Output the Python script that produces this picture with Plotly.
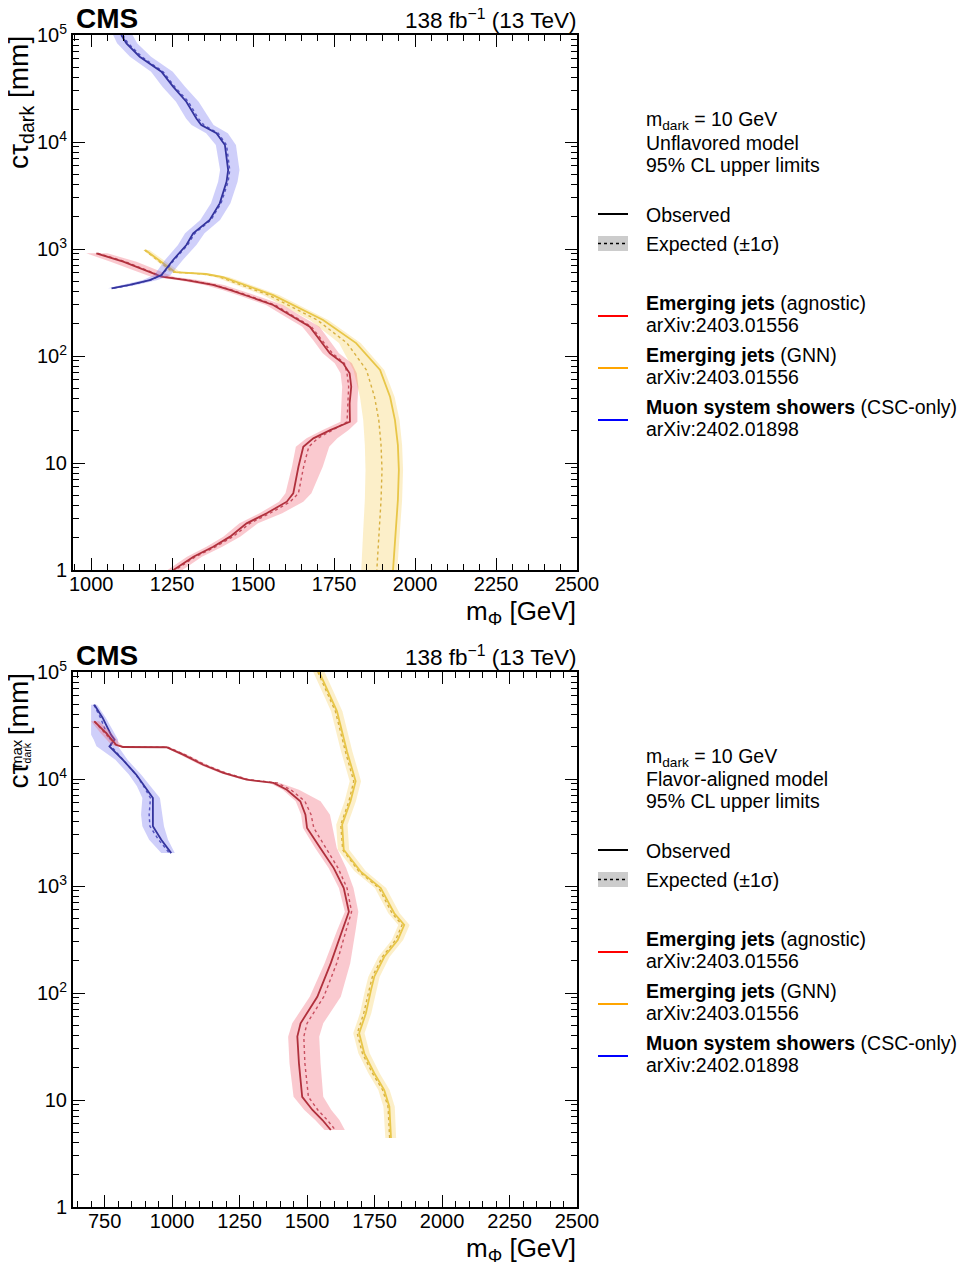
import plotly.graph_objects as go

OFF = 8  # page body margin in the browser
W, H = 966 - 2 * OFF, 1263 - OFF
FONT = "Liberation Sans, Arial, Helvetica, sans-serif"

# ---------------- data: top panel (unflavored model) ----------------
top_blue_ctau = [100000, 83600, 62700, 45400, 32900, 23800, 16600, 14400, 12100, 9380, 5470, 4250, 2670, 1870, 1400, 1090, 789, 571, 513, 461, 429]
top_blue_obs = [1093, 1109, 1150, 1217, 1253, 1294, 1325, 1340, 1387, 1413, 1423, 1418, 1397, 1366, 1315, 1294, 1253, 1217, 1181, 1119, 1063]
top_blue_exp = [1098, 1114, 1156, 1222, 1258, 1300, 1331, 1348, 1392, 1418, 1428, 1423, 1401, 1370, 1320, 1298, 1256, 1219, 1183, 1121, 1066]
top_blue_lo = [1068, 1080, 1120, 1185, 1220, 1262, 1293, 1310, 1355, 1385, 1398, 1392, 1370, 1337, 1290, 1268, 1228, 1195, 1160, 1100, 1052]
top_blue_hi = [1128, 1142, 1185, 1252, 1290, 1332, 1365, 1378, 1422, 1447, 1458, 1452, 1430, 1398, 1350, 1325, 1283, 1245, 1205, 1140, 1080]

top_red_ctau = [912, 761, 551, 513, 461, 414, 358, 300, 233, 188, 141, 106, 85.5, 68.9, 51.7, 36.1, 24.3, 20.3, 17.0, 14.2, 9.23, 5.21, 4.35, 3.39, 2.73, 2.05, 1.65, 1.33, 1.0]
top_red_obs = [1016, 1099, 1217, 1294, 1376, 1428, 1490, 1562, 1623, 1675, 1706, 1737, 1778, 1798, 1803, 1798, 1799, 1738, 1686, 1655, 1640, 1624, 1604, 1542, 1480, 1429, 1377, 1316, 1254]
top_red_exp = [1020, 1105, 1222, 1300, 1382, 1434, 1496, 1568, 1628, 1680, 1712, 1745, 1782, 1790, 1795, 1792, 1790, 1745, 1700, 1672, 1656, 1640, 1615, 1552, 1490, 1438, 1385, 1322, 1260]
top_red_lo = [985, 1060, 1185, 1265, 1350, 1405, 1468, 1540, 1600, 1652, 1685, 1715, 1752, 1770, 1775, 1772, 1770, 1715, 1665, 1632, 1620, 1600, 1580, 1520, 1458, 1408, 1356, 1296, 1236]
top_red_hi = [1050, 1140, 1255, 1330, 1410, 1460, 1520, 1592, 1652, 1705, 1735, 1765, 1805, 1820, 1825, 1822, 1822, 1795, 1760, 1735, 1715, 1680, 1655, 1590, 1515, 1460, 1405, 1342, 1282]

top_yel_ctau = [979, 740, 609, 584, 547, 371, 217, 132, 74, 41.4, 25.2, 14.7, 8.6, 4.51, 2.36, 1.0]
top_yel_obs = [1167, 1222, 1259, 1355, 1407, 1562, 1716, 1818, 1892, 1923, 1938, 1947, 1950, 1947, 1941, 1932]
top_yel_exp = [1165, 1218, 1252, 1345, 1397, 1548, 1698, 1790, 1850, 1875, 1888, 1895, 1898, 1895, 1890, 1882]
top_yel_lo = [1160, 1210, 1240, 1330, 1382, 1530, 1675, 1765, 1810, 1830, 1840, 1845, 1847, 1845, 1840, 1834]
top_yel_hi = [1180, 1235, 1275, 1372, 1425, 1580, 1732, 1832, 1905, 1937, 1952, 1960, 1963, 1960, 1954, 1945]

# ---------------- data: bottom panel (flavor-aligned model) ----------------
bot_blue_ctau = [49500, 37200, 25900, 23300, 20200, 15100, 11000, 8540, 6640, 4630, 3610, 2710, 2030]
bot_blue_obs = [712, 743, 774, 787, 768, 818, 867, 898, 929, 929, 929, 960, 997]
bot_blue_exp = [710, 735, 760, 772, 775, 820, 866, 895, 920, 915, 918, 950, 990]
bot_blue_lo = [700, 700, 700, 710, 720, 790, 840, 870, 890, 885, 890, 915, 960]
bot_blue_hi = [722, 755, 790, 800, 800, 835, 885, 920, 955, 965, 970, 985, 1010]

bot_red_ctau = [34600, 26900, 20900, 19900, 19800, 16900, 13600, 11400, 9860, 9180, 7940, 6190, 4640, 3480, 2260, 1470, 957, 575, 388, 190, 92.3, 52.1, 39.1, 22.0, 10.7, 8.07, 6.50, 5.24]
bot_red_obs = [712, 756, 793, 818, 979, 1041, 1115, 1190, 1276, 1376, 1425, 1475, 1494, 1500, 1549, 1599, 1636, 1655, 1631, 1588, 1538, 1476, 1464, 1470, 1482, 1520, 1557, 1588]
bot_red_exp = [712, 752, 790, 820, 985, 1048, 1122, 1198, 1285, 1390, 1440, 1492, 1515, 1525, 1570, 1615, 1648, 1665, 1645, 1610, 1562, 1500, 1488, 1492, 1505, 1540, 1575, 1605]
bot_red_lo = [700, 735, 775, 805, 975, 1030, 1102, 1178, 1262, 1362, 1410, 1458, 1478, 1485, 1530, 1580, 1618, 1640, 1612, 1565, 1510, 1445, 1430, 1435, 1450, 1490, 1530, 1565]
bot_red_hi = [730, 775, 810, 830, 990, 1055, 1130, 1205, 1295, 1400, 1470, 1550, 1585, 1595, 1610, 1645, 1672, 1690, 1680, 1660, 1625, 1560, 1545, 1550, 1560, 1590, 1620, 1640]

bot_yel_ctau = [100000, 42900, 18100, 9520, 6190, 3740, 2180, 1370, 957, 556, 432, 313, 218, 142, 107, 64.6, 42.0, 27.3, 17.8, 12.4, 8.65, 4.41]
bot_yel_obs = [1545, 1611, 1648, 1680, 1661, 1630, 1636, 1698, 1773, 1823, 1860, 1836, 1786, 1749, 1737, 1718, 1693, 1712, 1749, 1786, 1805, 1811]
bot_yel_exp = [1540, 1605, 1642, 1673, 1655, 1625, 1632, 1692, 1766, 1815, 1852, 1828, 1779, 1742, 1730, 1710, 1686, 1705, 1742, 1780, 1800, 1806]
bot_yel_lo = [1523, 1589, 1626, 1658, 1639, 1608, 1614, 1676, 1751, 1801, 1838, 1814, 1764, 1727, 1715, 1696, 1671, 1690, 1727, 1764, 1783, 1790]
bot_yel_hi = [1565, 1631, 1668, 1700, 1681, 1650, 1656, 1718, 1793, 1843, 1880, 1856, 1806, 1769, 1757, 1738, 1713, 1732, 1769, 1806, 1825, 1830]

# axis settings
top_xrange = [944, 2500]
bot_xrange = [633, 2500]
x_major = [750, 1000, 1250, 1500, 1750, 2000, 2250, 2500]
y_major = [1, 10, 100, 1000, 10000, 100000]
y_major_text = ["1", "10", "10<sup>2</sup>", "10<sup>3</sup>", "10<sup>4</sup>", "10<sup>5</sup>"]

# ---------------- styling ----------------
STY = {
    "blue": dict(band="rgba(110,110,240,0.33)", line="#34349e", exp="#5555c0"),
    "red": dict(band="rgba(240,90,110,0.33)", line="#b0303c", exp="#c85060"),
    "yel": dict(band="rgba(245,205,90,0.33)", line="#e8c648", exp="#d8b040"),
}


def px(x):
    return (x - OFF) / W


def py(y):
    return 1 - (y - OFF) / H


fig = go.Figure()


def add_curve(xa, ya, ctau, obs, exp, lo, hi, key):
    s = STY[key]
    fig.add_trace(go.Scatter(x=lo + hi[::-1], y=ctau + ctau[::-1], fill="toself",
                             fillcolor=s["band"], line=dict(width=0), mode="lines",
                             hoverinfo="skip", showlegend=False, xaxis=xa, yaxis=ya))
    fig.add_trace(go.Scatter(x=exp, y=ctau, mode="lines",
                             line=dict(color=s["exp"], width=1.4, dash="dot"),
                             showlegend=False, xaxis=xa, yaxis=ya))
    fig.add_trace(go.Scatter(x=obs, y=ctau, mode="lines",
                             line=dict(color=s["line"], width=1.8),
                             showlegend=False, xaxis=xa, yaxis=ya))


add_curve("x", "y", top_yel_ctau, top_yel_obs, top_yel_exp, top_yel_lo, top_yel_hi, "yel")
add_curve("x", "y", top_red_ctau, top_red_obs, top_red_exp, top_red_lo, top_red_hi, "red")
add_curve("x", "y", top_blue_ctau, top_blue_obs, top_blue_exp, top_blue_lo, top_blue_hi, "blue")

add_curve("x2", "y2", bot_yel_ctau, bot_yel_obs, bot_yel_exp, bot_yel_lo, bot_yel_hi, "yel")
add_curve("x2", "y2", bot_blue_ctau, bot_blue_obs, bot_blue_exp, bot_blue_lo, bot_blue_hi, "blue")
add_curve("x2", "y2", bot_red_ctau, bot_red_obs, bot_red_exp, bot_red_lo, bot_red_hi, "red")

y_minor = [m * 10 ** d for d in range(0, 5) for m in range(2, 10)]

frame_l, frame_r = 73, 577
panels = [
    dict(top=35, bot=570, xr=top_xrange, xa="xaxis", ya="yaxis", yref="y", xref="x"),
    dict(top=672, bot=1207, xr=bot_xrange, xa="xaxis2", ya="yaxis2", yref="y2", xref="x2"),
]

layout_axes = {}
for p in panels:
    xmin = p["xr"][0]
    x_minor = [v for v in range(650, 2500, 50) if v >= xmin and v not in x_major]
    layout_axes[p["xa"]] = dict(
        domain=[px(frame_l), px(frame_r)], anchor=p["yref"], range=p["xr"],
        tickmode="array", tickvals=[v for v in x_major if v >= xmin],
        ticks="inside", ticklen=12, tickwidth=1.3, tickcolor="black",
        showline=True, linewidth=2, linecolor="black", mirror="allticks",
        showgrid=False, zeroline=False, automargin=False, ticklabelstandoff=-5,
        tickfont=dict(family=FONT, size=20, color="black"),
        minor=dict(tickmode="array", tickvals=x_minor, ticks="inside", ticklen=6,
                   tickwidth=1, tickcolor="black", showgrid=False),
    )
    layout_axes[p["ya"]] = dict(
        domain=[py(p["bot"]), py(p["top"])], anchor=p["xref"], type="log", range=[0, 5],
        tickmode="array", tickvals=y_major, ticktext=y_major_text,
        ticks="inside", ticklen=12, tickwidth=1.3, tickcolor="black",
        showline=True, linewidth=2, linecolor="black", mirror="allticks",
        showgrid=False, zeroline=False, automargin=False,
        tickfont=dict(family=FONT, size=20, color="black"),
        minor=dict(tickmode="array", tickvals=y_minor, ticks="inside", ticklen=6,
                   tickwidth=1, tickcolor="black", showgrid=False),
    )

annotations = []
shapes = []


def text(x, y, s, size=19.5, xanchor="left", yanchor="middle", angle=0, color="black"):
    annotations.append(dict(x=px(x), y=py(y), xref="paper", yref="paper", text=s,
                            showarrow=False, xanchor=xanchor, yanchor=yanchor,
                            textangle=angle, borderpad=0,
                            font=dict(family=FONT, size=size, color=color)))


models = ["Unflavored model", "Flavor-aligned model"]
for i, p in enumerate(panels):
    off = 0 if i == 0 else 636
    # CMS label and lumi
    text(75, p["top"], "<b>CMS</b>", size=28, yanchor="bottom")
    text(frame_r, p["top"] - 1, "138 fb<sup>\u22121</sup> (13 TeV)", size=22.5, xanchor="right", yanchor="bottom")
    # x title
    text(frame_r, p["bot"] + 42, "m<sub>\u03a6</sub> [GeV]", size=26, xanchor="right")
    # y title
    if i == 0:
        text(2, p["top"], "c\u03c4<sub>dark</sub> [mm]", size=28, yanchor="top", angle=-90)
    else:
        text(2, p["top"], "c\u03c4<span style='font-size:15px'><sub>dark</sub></span> [mm]",
             size=28, yanchor="top", angle=-90)
        text(16, p["top"] + 82, "max", size=15, yanchor="middle", xanchor="center", angle=-90)
    # legend header
    text(645, 121 + off, "m<sub>dark</sub> = 10 GeV")
    text(645, 143 + off, models[i])
    text(645, 165 + off, "95% CL upper limits")
    # observed / expected
    shapes.append(dict(type="line", xref="paper", yref="paper", x0=px(598), x1=px(628),
                       y0=py(214 + off), y1=py(214 + off), line=dict(color="black", width=2)))
    text(645, 215 + off, "Observed")
    shapes.append(dict(type="rect", xref="paper", yref="paper", x0=px(598), x1=px(628),
                       y0=py(251 + off), y1=py(236 + off), fillcolor="#cccccc", line=dict(width=0)))
    shapes.append(dict(type="line", xref="paper", yref="paper", x0=px(598), x1=px(628),
                       y0=py(243.5 + off), y1=py(243.5 + off), line=dict(color="black", width=1.3, dash="dot")))
    text(645, 244 + off, "Expected (\u00b11\u03c3)")
    # analyses
    entries = [("#ff0000", "<b>Emerging jets</b> (agnostic)", "arXiv:2403.01556", 303),
               ("#ffa500", "<b>Emerging jets</b> (GNN)", "arXiv:2403.01556", 355),
               ("#0000ff", "<b>Muon system showers</b> (CSC-only)", "arXiv:2402.01898", 407)]
    for col, l1, l2, yy in entries:
        shapes.append(dict(type="line", xref="paper", yref="paper", x0=px(598), x1=px(628),
                           y0=py(yy + 13 + off), y1=py(yy + 13 + off), line=dict(color=col, width=2)))
        text(645, yy + off, l1)
        text(645, yy + 22 + off, l2)

fig.update_layout(
    width=W, height=H,
    margin=dict(l=0, r=0, t=0, b=0),
    paper_bgcolor="white", plot_bgcolor="white",
    showlegend=False,
    annotations=annotations, shapes=shapes,
    font=dict(family=FONT, color="black"),
    **layout_axes,
)

fig.write_html("out.html")
